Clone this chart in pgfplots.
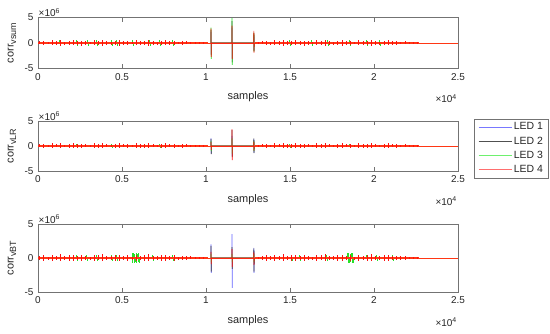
\documentclass[border=0pt]{standalone}
\usepackage{pgfplots}
\pgfplotsset{compat=1.18}
\usepackage{pgfplotstable}
\usepackage{fontspec}
\setmainfont{Liberation Sans}

\definecolor{cB}{RGB}{100,100,255}
\definecolor{cK}{RGB}{60,60,60}
\definecolor{cG}{RGB}{40,225,40}
\definecolor{cR}{RGB}{255,15,15}
\definecolor{cRb}{RGB}{255,55,20}
\definecolor{lB}{RGB}{120,120,255}
\definecolor{lK}{RGB}{80,80,80}
\definecolor{lG}{RGB}{110,240,110}
\definecolor{lR}{RGB}{255,110,110}

% shared red fuzz: vertical ticks (y in units of 1e6)
\pgfplotstableread[row sep=\\]{x y\\
100 0.3\\ 100 -0.25\\ 350 0.45\\ 350 -0.4\\ 600 0.2\\ 600 -0.25\\ 850 0.5\\ 850 -0.45\\
1100 0.35\\ 1100 -0.3\\ 1350 0.55\\ 1350 -0.5\\ 1600 0.25\\ 1600 -0.3\\ 1850 0.4\\ 1850 -0.45\\
2100 0.5\\ 2100 -0.4\\ 2350 0.3\\ 2350 -0.35\\ 2600 0.45\\ 2600 -0.5\\ 2850 0.35\\ 2850 -0.3\\
3100 0.2\\ 3100 -0.25\\ 3350 0.5\\ 3350 -0.45\\ 3600 0.4\\ 3600 -0.35\\ 3850 0.55\\ 3850 -0.5\\
4100 0.3\\ 4100 -0.3\\ 4350 0.25\\ 4350 -0.3\\ 4600 0.45\\ 4600 -0.4\\ 4850 0.5\\ 4850 -0.5\\
5100 0.35\\ 5100 -0.3\\ 5350 0.4\\ 5350 -0.45\\ 5600 0.2\\ 5600 -0.25\\ 5850 0.5\\ 5850 -0.45\\
6100 0.3\\ 6100 -0.35\\ 6350 0.45\\ 6350 -0.4\\ 6600 0.55\\ 6600 -0.5\\ 6850 0.35\\ 6850 -0.3\\
7100 0.25\\ 7100 -0.3\\ 7350 0.4\\ 7350 -0.4\\ 7600 0.5\\ 7600 -0.45\\ 7850 0.3\\ 7850 -0.3\\
8100 0.45\\ 8100 -0.4\\ 8350 0.2\\ 8350 -0.25\\ 8600 0.35\\ 8600 -0.35\\ 8850 0.3\\ 8850 -0.25\\
9100 0.25\\ 9100 -0.2\\ 9350 0.2\\ 9350 -0.2\\ 9600 0.15\\ 9600 -0.15\\ 9850 0.1\\ 9850 -0.1\\
}\fuzzL
\pgfplotstableread[row sep=\\]{x y\\
13100 0.15\\ 13100 -0.15\\ 13350 0.3\\ 13350 -0.25\\ 13600 0.45\\ 13600 -0.4\\ 13850 0.25\\ 13850 -0.3\\
14100 0.5\\ 14100 -0.45\\ 14350 0.35\\ 14350 -0.3\\ 14600 0.55\\ 14600 -0.5\\ 14850 0.3\\ 14850 -0.35\\
15100 0.4\\ 15100 -0.45\\ 15350 0.5\\ 15350 -0.4\\ 15600 0.3\\ 15600 -0.35\\ 15850 0.45\\ 15850 -0.5\\
16100 0.35\\ 16100 -0.3\\ 16350 0.2\\ 16350 -0.25\\ 16600 0.5\\ 16600 -0.45\\ 16850 0.4\\ 16850 -0.35\\
17100 0.55\\ 17100 -0.5\\ 17350 0.3\\ 17350 -0.3\\ 17600 0.25\\ 17600 -0.3\\ 17850 0.45\\ 17850 -0.4\\
18100 0.5\\ 18100 -0.5\\ 18350 0.35\\ 18350 -0.3\\ 18600 0.4\\ 18600 -0.45\\ 18850 0.2\\ 18850 -0.25\\
19100 0.5\\ 19100 -0.45\\ 19350 0.3\\ 19350 -0.35\\ 19600 0.45\\ 19600 -0.4\\ 19850 0.55\\ 19850 -0.5\\
20100 0.35\\ 20100 -0.3\\ 20350 0.25\\ 20350 -0.3\\ 20600 0.4\\ 20600 -0.4\\ 20850 0.5\\ 20850 -0.45\\
21100 0.3\\ 21100 -0.3\\ 21350 0.35\\ 21350 -0.35\\ 21600 0.25\\ 21600 -0.25\\ 21850 0.3\\ 21850 -0.25\\
22100 0.2\\ 22100 -0.2\\ 22350 0.15\\ 22350 -0.15\\ 22600 0.1\\ 22600 -0.1\\
}\fuzzR
% red baseline, thick part and thin part
\pgfplotstableread[row sep=\\]{x y\\ 0 0\\ 10100 0\\}\baseL
\pgfplotstableread[row sep=\\]{x y\\ 12900 0\\ 22700 0\\}\baseR
\pgfplotstableread[row sep=\\]{x y\\ 0 0\\ 25000 0\\}\baseAll

% ---------- panel 1 (vsum) ----------
\pgfplotstableread[row sep=\\]{x y\\ 10290 0\\ 10300 2.2\\ 10310 -2.2\\ 10320 0\\ 11540 0\\ 11550 3.0\\ 11560 -3.0\\ 11570 0\\ 12840 0\\ 12850 1.5\\ 12860 -1.4\\ 12870 0\\}\AB
\pgfplotstableread[row sep=\\]{x y\\ 10290 0\\ 10300 2.5\\ 10310 -2.4\\ 10320 0\\ 11540 0\\ 11550 4.3\\ 11560 -3.8\\ 11570 0\\ 12840 0\\ 12850 2.0\\ 12860 -1.6\\ 12870 0\\}\AK
\pgfplotstableread[row sep=\\]{x y\\ 10290 0\\ 10300 3.0\\ 10310 -3.1\\ 10320 0\\ 11540 0\\ 11550 4.9\\ 11560 -4.3\\ 11570 0\\ 12840 0\\ 12850 2.1\\ 12860 -1.7\\ 12870 0\\}\AG
\pgfplotstableread[row sep=\\]{x y\\ 10290 0\\ 10300 2.8\\ 10310 -2.7\\ 10320 0\\ 11540 0\\ 11550 3.4\\ 11560 -3.1\\ 11570 0\\ 12840 0\\ 12850 2.4\\ 12860 -1.9\\ 12870 0\\}\AR
\pgfplotstableread[row sep=\\]{x y\\
1290 0.5\\ 1330 -0.5\\
2300 0.55\\ 2340 -0.55\\
2960 0.5\\ 3000 -0.5\\
3490 0.5\\ 3530 -0.5\\
4390 0.55\\ 4430 -0.55\\
4690 0.5\\ 4730 -0.5\\
5640 0.55\\ 5680 -0.55\\
6650 0.5\\ 6690 -0.5\\
7240 0.55\\ 7280 -0.55\\
8020 0.5\\ 8060 -0.5\\
14990 0.55\\ 15030 -0.55\\
16290 0.5\\ 16330 -0.5\\
17240 0.55\\ 17280 -0.55\\
18560 0.5\\ 18600 -0.5\\
19570 0.55\\ 19610 -0.55\\
20340 0.5\\ 20380 -0.5\\
}\AGc

% ---------- panel 2 (vLR) ----------
\pgfplotstableread[row sep=\\]{x y\\ 10290 0\\ 10300 1.5\\ 10310 -1.5\\ 10320 0\\ 11540 0\\ 11550 2.0\\ 11560 -2.0\\ 11570 0\\ 12840 0\\ 12850 1.4\\ 12860 -1.3\\ 12870 0\\}\BB
\pgfplotstableread[row sep=\\]{x y\\ 10290 0\\ 10300 1.4\\ 10310 -1.6\\ 10320 0\\ 11540 0\\ 11550 3.2\\ 11560 -2.2\\ 11570 0\\ 12840 0\\ 12850 1.5\\ 12860 -1.4\\ 12870 0\\}\BK
\pgfplotstableread[row sep=\\]{x y\\ 10290 0\\ 10300 1.0\\ 10310 -1.0\\ 10320 0\\ 11540 0\\ 11550 1.5\\ 11560 -1.5\\ 11570 0\\ 12840 0\\ 12850 1.0\\ 12860 -1.0\\ 12870 0\\}\BG
\pgfplotstableread[row sep=\\]{x y\\ 10290 0\\ 10300 0.8\\ 10310 -0.8\\ 10320 0\\ 11540 0\\ 11550 3.3\\ 11560 -2.8\\ 11570 0\\ 12840 0\\ 12850 0.9\\ 12860 -0.9\\ 12870 0\\}\BR
\pgfplotstableread[row sep=\\]{x y\\
2300 0.4\\ 2340 -0.4\\
4390 0.4\\ 4430 -0.4\\
7240 0.4\\ 7280 -0.4\\
14990 0.4\\ 15030 -0.4\\
18560 0.4\\ 18600 -0.4\\
}\BGc

% ---------- panel 3 (vBT) ----------
\pgfplotstableread[row sep=\\]{x y\\ 10290 0\\ 10300 2.0\\ 10310 -2.2\\ 10320 0\\ 11540 0\\ 11550 3.5\\ 11560 -4.4\\ 11570 0\\ 12840 0\\ 12850 1.5\\ 12860 -2.2\\ 12870 0\\}\CB
\pgfplotstableread[row sep=\\]{x y\\ 10290 0\\ 10300 1.8\\ 10310 -2.0\\ 10320 0\\ 11540 0\\ 11550 1.6\\ 11560 -1.6\\ 11570 0\\ 12840 0\\ 12850 1.4\\ 12860 -2.0\\ 12870 0\\}\CK
\pgfplotstableread[row sep=\\]{x y\\ 10290 0\\ 10300 0.6\\ 10310 -0.6\\ 10320 0\\ 11540 0\\ 11550 0.6\\ 11560 -0.6\\ 11570 0\\ 12840 0\\ 12850 0.6\\ 12860 -0.6\\ 12870 0\\}\CG
\pgfplotstableread[row sep=\\]{x y\\ 10290 0\\ 10300 0.9\\ 10310 -0.9\\ 10320 0\\ 11540 0\\ 11550 1.3\\ 11560 -1.3\\ 11570 0\\ 12840 0\\ 12850 0.9\\ 12860 -1.0\\ 12870 0\\}\CR
\pgfplotstableread[row sep=\\]{x y\\
2300 0.5\\ 2340 -0.5\\
2900 0.5\\ 2940 -0.5\\
3490 0.5\\ 3530 -0.5\\
4380 0.5\\ 4420 -0.5\\
4680 0.5\\ 4720 -0.5\\
5600 0.7\\ 5640 -0.7\\ 5680 0.7\\ 5720 -0.7\\ 5760 0.6\\ 5800 -0.6\\ 5840 0.7\\ 5880 -0.7\\ 5920 0.6\\ 5960 -0.6\\ 6000 0.7\\ 6040 -0.7\\
6840 0.5\\ 6880 -0.5\\
8020 0.5\\ 8060 -0.5\\
15100 0.5\\ 15140 -0.5\\
15580 0.5\\ 15620 -0.5\\
17190 0.5\\ 17230 -0.5\\
18420 0.7\\ 18460 -0.7\\ 18500 0.7\\ 18540 -0.7\\ 18580 0.6\\ 18620 -0.6\\ 18660 0.7\\ 18700 -0.7\\ 18740 0.7\\ 18780 -0.7\\
19570 0.5\\ 19610 -0.5\\
20160 0.5\\ 20200 -0.5\\
21120 0.5\\ 21160 -0.5\\
}\CGc

\newcommand{\corr}[1]{corr\raisebox{-2.6bp}{\fontsize{9}{10}\selectfont #1}}

\tikzset{
  sc6/.style={anchor=south west, inner sep=0.5bp, black!85},
  sc4/.style={anchor=east, inner sep=0pt, black!85, yshift=-30bp, xshift=-1bp},
}
\pgfplotsset{
  panel/.style={
    scale only axis, width=420bp,
    xmin=0, xmax=25000, ymin=-5, ymax=5,
    xtick={0,5000,10000,15000,20000,25000}, ytick={-5,0,5},
    scaled x ticks=base 10:-4, xtick scale label code/.code={},
    scaled y ticks=false,
    clip mode=individual,
    axis line style={black!55}, tick style={black!55},
    tick label style={black!85},
    /pgf/number format/assume math mode=true,
    font=\fontsize{10}{12}\selectfont,
    xticklabel style={yshift=-1.5bp},
    yticklabel style={xshift=-1bp},
    xlabel={samples},
    xlabel style={at={(rel axis cs:0.5,0)}, anchor=center, yshift=-28.5bp, black!85, font=\fontsize{11}{13}\selectfont},
    ylabel style={at={(axis description cs:-0.062,0.5)}, anchor=center, black!85, font=\fontsize{11}{13}\selectfont},
  },
  sp/.style={#1, sharp plot, no markers, line width=0.7bp, forget plot},
  fz/.style={cR, ycomb, no markers, line width=1.1bp, forget plot},
  gc/.style={cG, ycomb, no markers, line width=1.1bp, forget plot},
  bl/.style={cRb, sharp plot, no markers, line width=1.5bp, forget plot},
  blthin/.style={cRb, sharp plot, no markers, line width=0.8bp, forget plot},
}

\begin{document}
\begin{tikzpicture}
\useasboundingbox (0,0) rectangle (550bp,334bp);

% ---- top ----
\begin{axis}[panel, at={(38bp,265.5bp)}, anchor=south west, height=51bp,
  ylabel={\corr{vsum}}]
\addplot[sp=cB] table {\AB};
\addplot[sp=cK] table {\AK};
\addplot[sp=cG] table {\AG};
\addplot[gc] table {\AGc};
\addplot[blthin] table {\baseAll};
\addplot[sp=cR] table {\AR};
\addplot[bl] table {\baseL};
\addplot[bl] table {\baseR};
\addplot[fz] table {\fuzzL};
\addplot[fz] table {\fuzzR};
\node[sc6] at (rel axis cs:0,1) {×10\textsuperscript{6}};
\node[sc4] at (rel axis cs:1,0) {×10\textsuperscript{4}};
\end{axis}

% ---- middle ----
\begin{axis}[panel, at={(38bp,163bp)}, anchor=south west, height=50bp,
  ylabel={\corr{vLR}},
  legend style={at={(1,1)}, anchor=north west, xshift=16bp, yshift=2bp,
    draw=black!55, font=\fontsize{10.5}{12}\selectfont, text=black!85,
    inner xsep=4bp, inner ysep=2bp, row sep=2.3bp,
    nodes={inner sep=1.6bp}, cells={anchor=west}},
  legend image code/.code={\draw[#1] (0bp,0bp) -- (33bp,0bp);}]
\addlegendimage{lB, line width=1bp, sharp plot, no markers}
\addlegendimage{lK, line width=1bp, sharp plot, no markers}
\addlegendimage{lG, line width=1bp, sharp plot, no markers}
\addlegendimage{lR, line width=1bp, sharp plot, no markers}
\addplot[sp=cB] table {\BB};
\addplot[sp=cK] table {\BK};
\addplot[sp=cG] table {\BG};
\addplot[gc] table {\BGc};
\addplot[blthin] table {\baseAll};
\addplot[sp=cR] table {\BR};
\addplot[bl] table {\baseL};
\addplot[bl] table {\baseR};
\addplot[fz] table {\fuzzL};
\addplot[fz] table {\fuzzR};
\legend{LED 1, LED 2, LED 3, LED 4}
\node[sc6] at (rel axis cs:0,1) {×10\textsuperscript{6}};
\node[sc4] at (rel axis cs:1,0) {×10\textsuperscript{4}};
\end{axis}

% ---- bottom ----
\begin{axis}[panel, at={(38bp,42bp)}, anchor=south west, height=68bp,
  ylabel={\corr{vBT}}]
\addplot[sp=cB] table {\CB};
\addplot[sp=cK] table {\CK};
\addplot[sp=cG] table {\CG};
\addplot[gc] table {\CGc};
\addplot[blthin] table {\baseAll};
\addplot[sp=cR] table {\CR};
\addplot[bl] table {\baseL};
\addplot[bl] table {\baseR};
\addplot[fz] table {\fuzzL};
\addplot[fz] table {\fuzzR};
\node[sc6] at (rel axis cs:0,1) {×10\textsuperscript{6}};
\node[sc4] at (rel axis cs:1,0) {×10\textsuperscript{4}};
\end{axis}
\end{tikzpicture}
\end{document}
